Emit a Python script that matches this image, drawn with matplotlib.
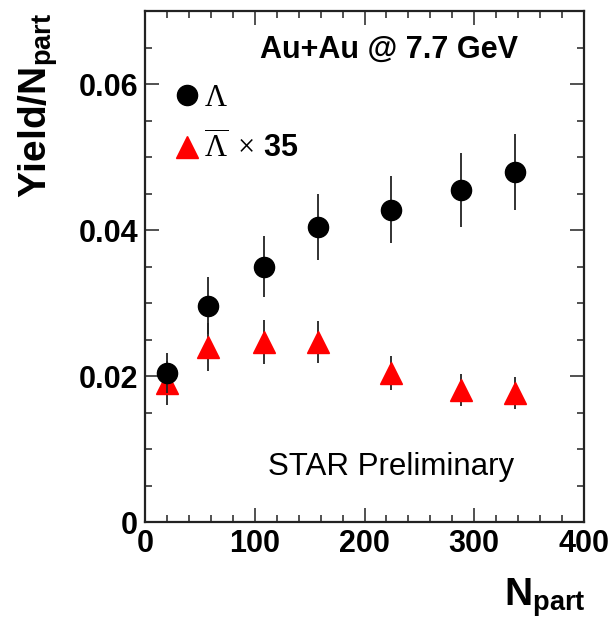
import matplotlib
matplotlib.use("Agg")
import matplotlib.pyplot as plt
from matplotlib.ticker import MultipleLocator, FixedLocator, FixedFormatter
from matplotlib.lines import Line2D

plt.rcParams['font.family'] = ['Liberation Sans', 'DejaVu Sans']
plt.rcParams['mathtext.fontset'] = 'custom'
plt.rcParams['mathtext.rm'] = 'Liberation Serif'
plt.rcParams['mathtext.it'] = 'Liberation Serif:italic'
plt.rcParams['mathtext.bf'] = 'Liberation Sans:bold'

npart = [20, 57, 108, 158, 224, 288, 337]
lam = [0.0204, 0.0296, 0.0350, 0.0404, 0.0428, 0.0455, 0.0480]
lam_err = [0.0027, 0.0039, 0.0042, 0.0045, 0.0046, 0.0051, 0.0052]
alam = [0.0190, 0.0240, 0.0247, 0.0247, 0.0204, 0.0181, 0.0177]
alam_err = [0.0030, 0.0033, 0.0030, 0.0029, 0.0023, 0.0022, 0.0022]

xticks = [0, 100, 200, 300, 400]
xticklabels = ['0', '100', '200', '300', '400']
yticks = [0, 0.02, 0.04, 0.06]
yticklabels = ['0', '0.02', '0.04', '0.06']

W, H = 610, 620
fig = plt.figure(figsize=(W / 100, H / 100), dpi=100)
ax = fig.add_axes([145 / W, (H - 522) / H, (584 - 145) / W, (522 - 11) / H])

ax.errorbar(npart, alam, yerr=alam_err, fmt='^', color='red', ms=15.5,
            mec='red', ecolor='#222222', elinewidth=1.3, capsize=0, zorder=3)
ax.errorbar(npart, lam, yerr=lam_err, fmt='o', color='black', ms=14.5,
            ecolor='#222222', elinewidth=1.3, capsize=0, zorder=4)

ax.set_xlim(0, 400)
ax.set_ylim(0, 0.07)
ax.xaxis.set_major_locator(FixedLocator(xticks))
ax.xaxis.set_major_formatter(FixedFormatter(xticklabels))
ax.xaxis.set_minor_locator(MultipleLocator(20))
ax.yaxis.set_major_locator(FixedLocator(yticks))
ax.yaxis.set_major_formatter(FixedFormatter(yticklabels))
ax.yaxis.set_minor_locator(MultipleLocator(0.005))

ax.tick_params(which='both', direction='in', top=True, right=True, width=1.1, color='#222222')
ax.tick_params(which='major', length=10, labelsize=22, pad=5)
ax.tick_params(which='minor', length=5)
for lab in ax.get_xticklabels() + ax.get_yticklabels():
    lab.set_fontweight('bold')
for s in ax.spines.values():
    s.set_linewidth(1.6)
    s.set_color('#222222')

# axis titles
fig.text(39 / W, 1 - 13 / H, r'Yield/N$_{\mathbf{part}}$', rotation=90,
         ha='center', va='top', fontsize=28, fontweight='bold')
fig.text(586 / W, 1 - 606 / H, r'N$_{\mathbf{part}}$', ha='right', va='baseline',
         fontsize=28, fontweight='bold')

ax.text(0.556, 1 - 39 / 511, 'Au+Au @ 7.7 GeV', ha='center', va='center',
        fontsize=22, fontweight='bold', transform=ax.transAxes)
ax.text((268 - 145) / 439, (522 - 475) / 511, 'STAR Preliminary', ha='left',
        va='baseline', fontsize=22.5, transform=ax.transAxes)

handles = [
    Line2D([], [], ls='none', marker='o', color='black', ms=14.5),
    Line2D([], [], ls='none', marker='^', color='red', ms=15.5),
]
labels = [r'$\Lambda$', r'$\overline{\Lambda}\ \times\,$35']
leg = ax.legend(handles, labels, loc='upper left',
                bbox_to_anchor=(176 / W, 1 - 83 / H), bbox_transform=fig.transFigure,
                frameon=False, fontsize=22, handlelength=0.7, handletextpad=0.2,
                borderpad=0, borderaxespad=0, labelspacing=0.6)
for t in leg.get_texts():
    t.set_fontweight('bold')

fig.savefig('out.png', dpi=100)
